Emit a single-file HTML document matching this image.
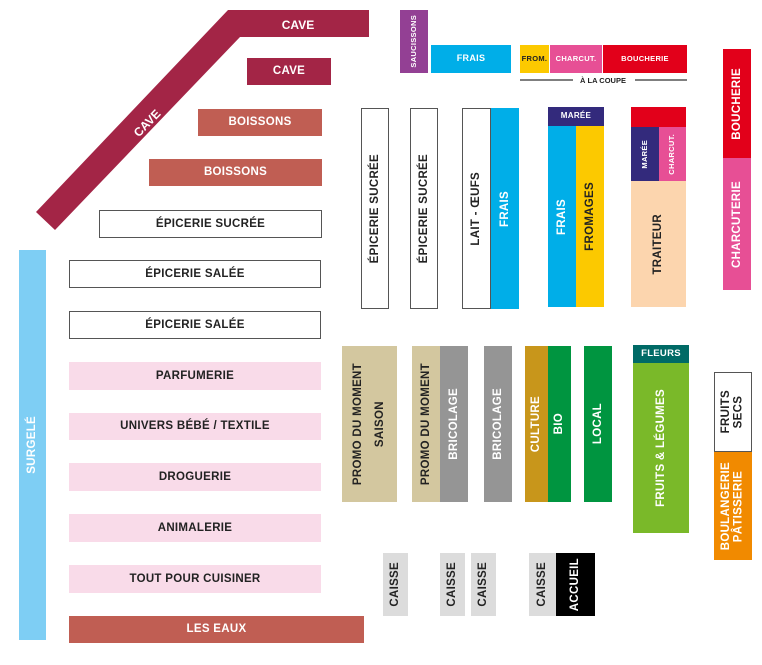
<!DOCTYPE html>
<html><head><meta charset="utf-8"><style>
body{margin:0;width:762px;height:665px;background:#fff;position:relative;overflow:hidden;font-family:"Liberation Sans",sans-serif;font-weight:bold;}
.b{position:absolute;box-sizing:border-box;display:flex;align-items:center;justify-content:center;font-size:11.5px;letter-spacing:0.3px;color:#222;text-align:center;line-height:1.1;}
.w{color:#fff}
.o{border:1.5px solid #555;background:#fff}
.v{writing-mode:vertical-rl;transform:rotate(180deg);}
.s{font-size:7.5px}
</style></head><body>
<svg style="position:absolute;left:0;top:0" width="762" height="665">
<polygon points="228,10 369,10 369,37 240,37 55,230 36,212" fill="#a32546"/>
<text x="0" y="0" transform="translate(150,126) rotate(-46)" fill="#fff" font-family="Liberation Sans" font-weight="bold" font-size="12" text-anchor="middle">CAVE</text>
<text x="298" y="29" fill="#fff" font-family="Liberation Sans" font-weight="bold" font-size="12" text-anchor="middle">CAVE</text>
<line x1="520" y1="80" x2="573" y2="80" stroke="#333" stroke-width="1.2"/>
<line x1="635" y1="80" x2="687" y2="80" stroke="#333" stroke-width="1.2"/>
<text x="603" y="83" fill="#222" font-family="Liberation Sans" font-weight="bold" font-size="7.5" text-anchor="middle">À LA COUPE</text>
</svg>
<div class="b w" style="left:247px;top:58px;width:84px;height:27px;background:#a32546">CAVE</div>
<div class="b w" style="left:198px;top:109px;width:124px;height:27px;background:#c05e53">BOISSONS</div>
<div class="b w" style="left:149px;top:159px;width:173px;height:27px;background:#c05e53">BOISSONS</div>
<div class="b o" style="left:99px;top:210px;width:223px;height:28px">ÉPICERIE SUCRÉE</div>
<div class="b o" style="left:69px;top:260px;width:252px;height:28px">ÉPICERIE SALÉE</div>
<div class="b o" style="left:69px;top:311px;width:252px;height:28px">ÉPICERIE SALÉE</div>
<div class="b" style="left:69px;top:362px;width:252px;height:28px;background:#f9dbe9">PARFUMERIE</div>
<div class="b" style="left:69px;top:413px;width:252px;height:27px;background:#f9dbe9">UNIVERS BÉBÉ / TEXTILE</div>
<div class="b" style="left:69px;top:463px;width:252px;height:28px;background:#f9dbe9">DROGUERIE</div>
<div class="b" style="left:69px;top:514px;width:252px;height:28px;background:#f9dbe9">ANIMALERIE</div>
<div class="b" style="left:69px;top:565px;width:252px;height:28px;background:#f9dbe9">TOUT POUR CUISINER</div>
<div class="b w" style="left:69px;top:616px;width:295px;height:27px;background:#c05e53">LES EAUX</div>
<div class="b w" style="left:19px;top:250px;width:27px;height:390px;background:#7ecef4"><span class="v">SURGELÉ</span></div>

<div class="b w s" style="left:400px;top:10px;width:28px;height:63px;background:#934094"><span class="v">SAUCISSONS</span></div>
<div class="b w" style="left:431px;top:45px;width:80px;height:28px;background:#00aee8;font-size:9px">FRAIS</div>
<div class="b s" style="left:520px;top:45px;width:29px;height:28px;background:#fcc900">FROM.</div>
<div class="b w s" style="left:550px;top:45px;width:52px;height:28px;background:#e74f95">CHARCUT.</div>
<div class="b w s" style="left:603px;top:45px;width:84px;height:28px;background:#e2001a">BOUCHERIE</div>

<div class="b o" style="left:361px;top:108px;width:28px;height:201px"><span class="v">ÉPICERIE SUCRÉE</span></div>
<div class="b o" style="left:410px;top:108px;width:28px;height:201px"><span class="v">ÉPICERIE SUCRÉE</span></div>
<div class="b o" style="left:462px;top:108px;width:29px;height:201px"><span class="v">LAIT - ŒUFS</span></div>
<div class="b w" style="left:491px;top:108px;width:28px;height:201px;background:#00aee8"><span class="v">FRAIS</span></div>
<div class="b w" style="left:548px;top:107px;width:56px;height:19px;background:#332a7c;font-size:8px">MARÉE</div>
<div class="b w" style="left:548px;top:126px;width:28px;height:181px;background:#00aee8"><span class="v">FRAIS</span></div>
<div class="b" style="left:576px;top:126px;width:28px;height:181px;background:#fcc900"><span class="v">FROMAGES</span></div>
<div class="b" style="left:631px;top:107px;width:55px;height:20px;background:#e2001a"></div>
<div class="b w s" style="left:631px;top:127px;width:28px;height:54px;background:#332a7c"><span class="v">MARÉE</span></div>
<div class="b w s" style="left:659px;top:127px;width:27px;height:54px;background:#e74f95"><span class="v">CHARCUT.</span></div>
<div class="b" style="left:631px;top:181px;width:55px;height:126px;background:#fcd5ae"><span class="v">TRAITEUR</span></div>
<div class="b w" style="left:723px;top:49px;width:28px;height:109px;background:#e2001a"><span class="v">BOUCHERIE</span></div>
<div class="b w" style="left:723px;top:158px;width:28px;height:132px;background:#e74f95"><span class="v">CHARCUTERIE</span></div>

<div class="b" style="left:342px;top:346px;width:55px;height:156px;background:#d3c79f"><span class="v" style="line-height:1.9">PROMO DU MOMENT<br>SAISON</span></div>
<div class="b" style="left:412px;top:346px;width:28px;height:156px;background:#d3c79f"><span class="v">PROMO DU MOMENT</span></div>
<div class="b w" style="left:440px;top:346px;width:28px;height:156px;background:#959595"><span class="v">BRICOLAGE</span></div>
<div class="b w" style="left:484px;top:346px;width:28px;height:156px;background:#959595"><span class="v">BRICOLAGE</span></div>
<div class="b w" style="left:525px;top:346px;width:23px;height:156px;background:#c8961b"><span class="v">CULTURE</span></div>
<div class="b w" style="left:548px;top:346px;width:23px;height:156px;background:#009540"><span class="v">BIO</span></div>
<div class="b w" style="left:584px;top:346px;width:28px;height:156px;background:#009540"><span class="v">LOCAL</span></div>
<div class="b w" style="left:633px;top:345px;width:56px;height:18px;background:#006a66;font-size:9.5px">FLEURS</div>
<div class="b w" style="left:633px;top:363px;width:56px;height:170px;background:#7ab929"><span class="v">FRUITS &amp; LÉGUMES</span></div>
<div class="b o" style="left:714px;top:372px;width:38px;height:80px"><span class="v">FRUITS<br>SECS</span></div>
<div class="b w" style="left:714px;top:452px;width:38px;height:108px;background:#f18a00"><span class="v">BOULANGERIE<br>PÂTISSERIE</span></div>

<div class="b" style="left:383px;top:553px;width:25px;height:63px;background:#dcdcdc"><span class="v">CAISSE</span></div>
<div class="b" style="left:440px;top:553px;width:25px;height:63px;background:#dcdcdc"><span class="v">CAISSE</span></div>
<div class="b" style="left:471px;top:553px;width:25px;height:63px;background:#dcdcdc"><span class="v">CAISSE</span></div>
<div class="b" style="left:529px;top:553px;width:27px;height:63px;background:#dcdcdc"><span class="v">CAISSE</span></div>
<div class="b w" style="left:556px;top:553px;width:39px;height:63px;background:#000"><span class="v">ACCUEIL</span></div>
</body></html>
